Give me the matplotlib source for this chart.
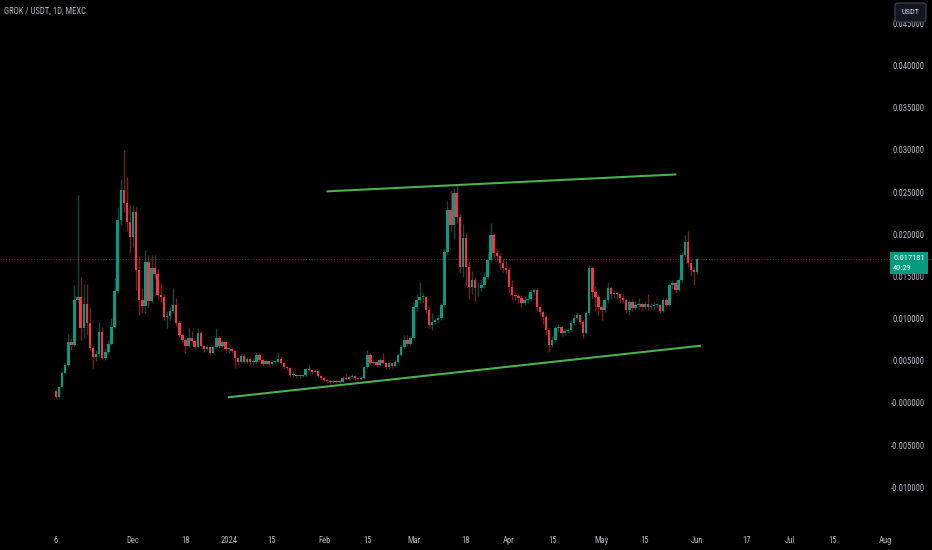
import datetime as dt

import matplotlib
matplotlib.use("Agg")
import matplotlib.pyplot as plt
import matplotlib.dates as mdates
from matplotlib import font_manager
from matplotlib.patches import Rectangle, FancyBboxPatch


# daily GROK/USDT candles from 2023-11-06, open of day 0 then closes
start_day = dt.date(2023, 11, 6)
first_open = 0.00154
closes = [
    0.00083, 0.00201, 0.00367, 0.00462, 0.00735, 0.00699, 0.01232, 0.01268, 0.00900, 0.01185,
    0.00960, 0.00663, 0.00557, 0.00592, 0.00853, 0.00545, 0.00616, 0.00711, 0.00912, 0.01339,
    0.02180, 0.02535, 0.02381, 0.02156, 0.01979, 0.02275, 0.01588, 0.01232, 0.01161, 0.01682,
    0.01220, 0.01611, 0.01540, 0.01291, 0.01268, 0.01031, 0.01043, 0.01102, 0.01173, 0.00960,
    0.00818, 0.00758, 0.00687, 0.00782, 0.00746, 0.00675, 0.00841, 0.00687, 0.00652, 0.00675,
    0.00604, 0.00675, 0.00782, 0.00687, 0.00735, 0.00652, 0.00652, 0.00628, 0.00545, 0.00498,
    0.00569, 0.00498, 0.00533, 0.00498, 0.00498, 0.00581, 0.00521, 0.00474, 0.00509, 0.00474,
    0.00498, 0.00498, 0.00533, 0.00486, 0.00438, 0.00427, 0.00344, 0.00344, 0.00332, 0.00332,
    0.00344, 0.00415, 0.00403, 0.00379, 0.00391, 0.00332, 0.00308, 0.00284, 0.00273, 0.00261,
    0.00273, 0.00261, 0.00261, 0.00308, 0.00296, 0.00320, 0.00332, 0.00308, 0.00296, 0.00308,
    0.00438, 0.00581, 0.00486, 0.00498, 0.00462, 0.00521, 0.00486, 0.00438, 0.00486, 0.00450,
    0.00498, 0.00581, 0.00675, 0.00758, 0.00711, 0.00782, 0.01149, 0.01232, 0.01268, 0.01268,
    0.01114, 0.00936, 0.00972, 0.00995, 0.01019, 0.01173, 0.01801, 0.02299, 0.02121, 0.02500,
    0.02216, 0.01623, 0.01967, 0.01623, 0.01386, 0.01469, 0.01374, 0.01374, 0.01410, 0.01505,
    0.01706, 0.02002, 0.01789, 0.01754, 0.01671, 0.01611, 0.01588, 0.01386, 0.01291, 0.01280,
    0.01256, 0.01197, 0.01232, 0.01244, 0.01327, 0.01351, 0.01149, 0.01090, 0.01031, 0.00877,
    0.00699, 0.00758, 0.00900, 0.00912, 0.00841, 0.00865, 0.00877, 0.00960, 0.01019, 0.01054,
    0.00972, 0.00841, 0.01078, 0.01611, 0.01327, 0.01268, 0.01149, 0.01114, 0.01232, 0.01374,
    0.01303, 0.01315, 0.01303, 0.01256, 0.01232, 0.01114, 0.01209, 0.01137, 0.01173, 0.01185,
    0.01149, 0.01185, 0.01149, 0.01161, 0.01173, 0.01173, 0.01102, 0.01232, 0.01173, 0.01410,
    0.01434, 0.01351, 0.01469, 0.01765, 0.01919, 0.01671, 0.01588, 0.01564, 0.017181,
]
highs = [
    0.00178, 0.00213, 0.00391, 0.00486, 0.00829, 0.00782, 0.01410, 0.02476, 0.01505, 0.01422,
    0.01422, 0.01137, 0.00687, 0.00640, 0.00972, 0.00912, 0.00663, 0.00758, 0.01019, 0.01493,
    0.02334, 0.02666, 0.03010, 0.02690, 0.02358, 0.02358, 0.02334, 0.01750, 0.01375, 0.01830,
    0.01770, 0.01770, 0.01770, 0.01600, 0.01420, 0.01300, 0.01100, 0.01150, 0.01370, 0.01260,
    0.00990, 0.00840, 0.00780, 0.00900, 0.00870, 0.00760, 0.00900, 0.00860, 0.00700, 0.00700,
    0.00690, 0.00700, 0.00900, 0.00800, 0.00760, 0.00750, 0.00680, 0.00670, 0.00640, 0.00560,
    0.00590, 0.00590, 0.00560, 0.00560, 0.00540, 0.00620, 0.00600, 0.00530, 0.00530, 0.00520,
    0.00520, 0.00520, 0.00620, 0.00560, 0.00500, 0.00450, 0.00440, 0.00390, 0.00360, 0.00350,
    0.00360, 0.00430, 0.00460, 0.00420, 0.00410, 0.00400, 0.00340, 0.00320, 0.00300, 0.00290,
    0.00290, 0.00290, 0.00290, 0.00330, 0.00370, 0.00340, 0.00350, 0.00340, 0.00320, 0.00330,
    0.00450, 0.00640, 0.00600, 0.00520, 0.00510, 0.00540, 0.00600, 0.00500, 0.00500, 0.00500,
    0.00520, 0.00600, 0.00700, 0.00820, 0.00820, 0.00800, 0.01200, 0.01300, 0.01450, 0.01320,
    0.01280, 0.01150, 0.01080, 0.01020, 0.01050, 0.01200, 0.01850, 0.02400, 0.02540, 0.02560,
    0.02590, 0.02250, 0.02130, 0.02030, 0.01680, 0.01580, 0.01500, 0.01440, 0.01480, 0.01560,
    0.01780, 0.02150, 0.02030, 0.01850, 0.01790, 0.01720, 0.01700, 0.01620, 0.01470, 0.01330,
    0.01320, 0.01290, 0.01280, 0.01300, 0.01360, 0.01380, 0.01370, 0.01170, 0.01100, 0.01060,
    0.00900, 0.00800, 0.00930, 0.00950, 0.00930, 0.00900, 0.00900, 0.01000, 0.01050, 0.01090,
    0.01060, 0.00990, 0.01100, 0.01650, 0.01630, 0.01400, 0.01300, 0.01180, 0.01260, 0.01450,
    0.01400, 0.01350, 0.01340, 0.01320, 0.01300, 0.01250, 0.01230, 0.01250, 0.01220, 0.01260,
    0.01200, 0.01220, 0.01300, 0.01200, 0.01210, 0.01200, 0.01190, 0.01260, 0.01260, 0.01430,
    0.01470, 0.01460, 0.01500, 0.01800, 0.02000, 0.02050, 0.01720, 0.01620, 0.01740,
]
lows = [
    0.00071, 0.00071, 0.00189, 0.00355, 0.00450, 0.00640, 0.00687, 0.01209, 0.00758, 0.00782,
    0.00818, 0.00640, 0.00427, 0.00509, 0.00569, 0.00533, 0.00521, 0.00592, 0.00699, 0.00900,
    0.01315, 0.02120, 0.02275, 0.02050, 0.01790, 0.01860, 0.01350, 0.01055, 0.01078, 0.01080,
    0.01150, 0.01200, 0.01480, 0.01230, 0.01210, 0.01000, 0.00900, 0.01000, 0.01080, 0.00930,
    0.00790, 0.00720, 0.00610, 0.00660, 0.00720, 0.00650, 0.00660, 0.00670, 0.00620, 0.00640,
    0.00580, 0.00590, 0.00660, 0.00660, 0.00670, 0.00620, 0.00610, 0.00600, 0.00430, 0.00470,
    0.00480, 0.00480, 0.00480, 0.00470, 0.00460, 0.00480, 0.00500, 0.00450, 0.00460, 0.00450,
    0.00460, 0.00470, 0.00480, 0.00470, 0.00420, 0.00400, 0.00330, 0.00320, 0.00310, 0.00310,
    0.00320, 0.00330, 0.00390, 0.00360, 0.00370, 0.00320, 0.00290, 0.00270, 0.00250, 0.00240,
    0.00250, 0.00250, 0.00240, 0.00255, 0.00280, 0.00285, 0.00310, 0.00290, 0.00280, 0.00280,
    0.00300, 0.00430, 0.00470, 0.00470, 0.00440, 0.00450, 0.00470, 0.00420, 0.00420, 0.00430,
    0.00440, 0.00490, 0.00570, 0.00660, 0.00690, 0.00700, 0.00770, 0.01100, 0.01200, 0.01200,
    0.01080, 0.00900, 0.00880, 0.00950, 0.00960, 0.01000, 0.01150, 0.01780, 0.02050, 0.01950,
    0.02150, 0.01550, 0.01500, 0.01400, 0.01250, 0.01300, 0.01220, 0.01280, 0.01340, 0.01380,
    0.01480, 0.01680, 0.01720, 0.01700, 0.01600, 0.01560, 0.01540, 0.01330, 0.01250, 0.01230,
    0.01200, 0.01150, 0.01170, 0.01200, 0.01220, 0.01290, 0.01100, 0.01040, 0.00950, 0.00820,
    0.00616, 0.00680, 0.00740, 0.00850, 0.00800, 0.00820, 0.00840, 0.00860, 0.00940, 0.01000,
    0.00950, 0.00780, 0.00830, 0.01060, 0.01250, 0.01100, 0.01050, 0.01000, 0.01090, 0.01200,
    0.01250, 0.01260, 0.01250, 0.01200, 0.01200, 0.01080, 0.01060, 0.01100, 0.01110, 0.01130,
    0.01100, 0.01120, 0.01110, 0.01120, 0.01130, 0.01140, 0.01080, 0.01090, 0.01150, 0.01160,
    0.01380, 0.01320, 0.01340, 0.01440, 0.01740, 0.01620, 0.01520, 0.01410, 0.01540,
]

# channel lines drawn on the chart: (date, price) end points
upper_line = [(dt.date(2024, 2, 2), 0.0252), (dt.date(2024, 5, 25), 0.0272)]
lower_line = [(dt.date(2024, 1, 1), 0.0008), (dt.date(2024, 6, 2), 0.0069)]

price_ticks = [0.045, 0.040, 0.035, 0.030, 0.025, 0.020, 0.015, 0.010, 0.005, 0.0, -0.005, -0.010]
price_labels = ["0.045000", "0.040000", "0.035000", "0.030000", "0.025000", "0.020000",
                "0.015000", "0.010000", "0.005000", "-0.000000", "-0.005000", "-0.010000"]
date_ticks = ["2023-11-06", "2023-12-01", "2023-12-18", "2024-01-01", "2024-01-15", "2024-02-01",
              "2024-02-15", "2024-03-01", "2024-03-18", "2024-04-01", "2024-04-15", "2024-05-01",
              "2024-05-15", "2024-06-01", "2024-06-17", "2024-07-01", "2024-07-15", "2024-08-01"]
date_labels = ["6", "Dec", "18", "2024", "15", "Feb", "15", "Mar", "18", "Apr", "15", "May",
               "15", "Jun", "17", "Jul", "15", "Aug"]

last_price = closes[-1]
countdown = "40:29"

UP = "#089981"
DOWN = "#f23645"
TXT = "#b2b5be"


def pick_font():
    # a narrow face looks closer to the TradingView scale text
    have = {f.name for f in font_manager.fontManager.ttflist}
    for name in ["DejaVu Sans Condensed", "Liberation Sans Narrow", "Roboto Condensed"]:
        if name in have:
            return name, True
    return "DejaVu Sans", False


def main():
    font, narrow = pick_font()
    fs = 6.2 if narrow else 5.6
    kw = dict(family=font, stretch="condensed") if narrow else dict(family=font)

    opens = [first_open] + closes[:-1]
    days = [start_day + dt.timedelta(days=i) for i in range(len(closes))]
    x = mdates.date2num(days)

    fig = plt.figure(figsize=(9.32, 5.5), dpi=100)
    fig.patch.set_facecolor("black")
    ax = fig.add_axes([0, 0, 1, 1])
    ax.set_facecolor("black")
    ax.axis("off")

    x0 = x[0]
    ax.set_xlim(x0 - 18.17, x0 + 284.2)
    ax.set_ylim(-0.01730, 0.04787)

    for xi, o, h, l, c in zip(x, opens, highs, lows, closes):
        col = UP if c >= o else DOWN
        ax.vlines(xi, l, h, color=col, lw=1.0, alpha=0.5, zorder=2)
        bottom = min(o, c)
        height = max(abs(c - o), 0.00006)
        ax.bar(xi, height, bottom=bottom, width=0.8, color=col, lw=0, zorder=3)

    for line in (upper_line, lower_line):
        lx = mdates.date2num([p[0] for p in line])
        ly = [p[1] for p in line]
        ax.plot(lx, ly, color="#4caf50", lw=1.5, solid_capstyle="round", zorder=4)

    # last price line
    ax.axhline(last_price, color=UP, lw=0.8, alpha=0.55, ls=(0, (1, 1.5)), zorder=1)

    ytrans = ax.get_yaxis_transform()
    for v, lab in zip(price_ticks, price_labels):
        ax.text(0.992, v, lab, transform=ytrans, ha="right", va="center",
                color=TXT, fontsize=fs, zorder=5, **kw)

    xtrans = ax.get_xaxis_transform()
    for d, lab in zip(date_ticks, date_labels):
        xv = mdates.date2num(dt.date.fromisoformat(d))
        ax.text(xv, 0.018, lab, transform=xtrans, ha="center", va="center",
                color=TXT, fontsize=fs, **kw)

    fig.text(4 / 932, 1 - 11 / 550, "GROK / USDT, 1D, MEXC", ha="left", va="center",
             color=TXT, fontsize=fs, **kw)

    # USDT currency box
    box = FancyBboxPatch((895 / 932, 1 - 22 / 550), 31 / 932, 19 / 550,
                         boxstyle="round,pad=0,rounding_size=0.004",
                         transform=fig.transFigure, fc="#131722", ec="#434651", lw=0.8, zorder=10)
    fig.patches.append(box)
    fig.text(901 / 932, 1 - 12.5 / 550, "USDT", ha="left", va="center", color="#d1d4dc",
             fontsize=fs - 0.2, zorder=11, **kw)

    # last price tag
    tag = Rectangle((890 / 932, 1 - 274 / 550), 38 / 932, 22 / 550,
                    transform=fig.transFigure, fc=UP, ec="none", zorder=10)
    fig.patches.append(tag)
    fig.text(893 / 932, 1 - 257.5 / 550, f"{last_price:.6f}", ha="left", va="center",
             color="white", fontsize=fs - 0.1, zorder=11, **kw)
    fig.text(893 / 932, 1 - 268.5 / 550, countdown, ha="left", va="center",
             color="white", fontsize=fs - 0.1, zorder=11, **kw)

    fig.savefig("out.png", dpi=100, facecolor="black")


if __name__ == "__main__":
    main()
